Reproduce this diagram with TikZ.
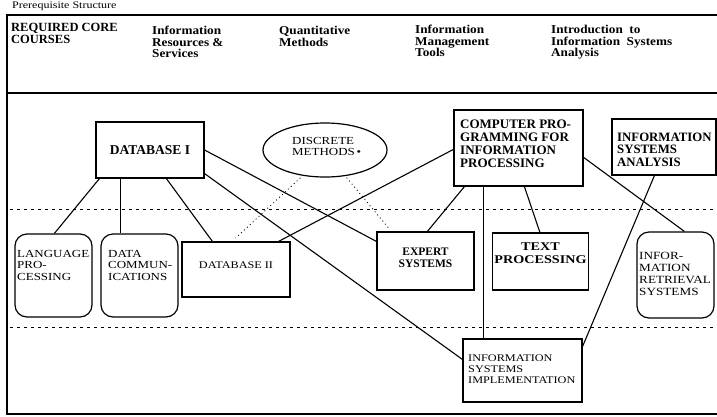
\documentclass[tikz,border=0pt]{standalone}
\usepackage{fontspec}
\setmainfont{Liberation Serif}
\newfontfamily\widefont[FakeStretch=1.2]{Liberation Serif}
\newfontfamily\semifont[FakeStretch=1.1]{Liberation Serif}
\usetikzlibrary{shapes.geometric}
\tikzset{
  box/.style={draw, line width=1.2pt, inner sep=0pt},
  rbox/.style={box, rounded corners=12pt},
  conn/.style={line width=1.1pt},
  dots/.style={line width=0.8pt, dash pattern=on 1pt off 3pt},
  sep/.style={line width=1pt, dash pattern=on 3pt off 4pt},
  frame/.style={line width=1.1pt},
  rtxt/.style={inner sep=0pt, anchor=north west, align=left, font=\widefont\fontsize{10.8}{11.6}\selectfont},
  btxt/.style={inner sep=0pt, anchor=north west, align=left, font=\bfseries\fontsize{13}{13}\selectfont},
  htxt/.style={inner sep=0pt, anchor=north west, align=left, font=\semifont\bfseries\fontsize{12}{11.5}\selectfont},
}
\begin{document}
\begin{tikzpicture}[x=1pt,y=-1pt]
\useasboundingbox (0,0) rectangle (717,416);
% title and frame
\node[inner sep=0pt, anchor=north west, font=\widefont\fontsize{10}{10}\selectfont] (title) at (12,2) {Prerequisite Structure};
\coordinate (ftr) at (717,15);
\coordinate (ftl) at (7,15);
\coordinate (fbl) at (7,414);
\coordinate (fbr) at (717,414);
\coordinate (hl) at (7,93);
\coordinate (hr) at (717,93);
\draw[frame] (ftr) -- (ftl) -- (fbl) -- (fbr);
\draw[frame] (hl) -- (hr);
% headers
\node[htxt, font=\bfseries\fontsize{12.5}{11.8}\selectfont] (h1) at (11,23) {REQUIRED CORE\\COURSES};
\node[htxt] (h2) at (152,26) {Information\\Resources \&\\Services};
\node[htxt] (h3) at (279,26) {Quantitative\\Methods};
\node[htxt] (h4) at (415,25) {Information\\Management\\Tools};
\node[htxt] (h5) at (551,25) {Introduction\ \ to\\Information\ \ Systems\\Analysis};
% separators
\coordinate (s1l) at (10,209);
\coordinate (s1r) at (717,209);
\coordinate (s2l) at (10,327);
\coordinate (s2r) at (717,327);
\draw[sep] (s1l) -- (s1r);
\draw[sep] (s2l) -- (s2r);
% boxes
\node[box, minimum width=108pt, minimum height=56pt, font=\bfseries\fontsize{13.5}{14}\selectfont] (db1) at (150,150) {DATABASE I};
\node[draw, line width=1.2pt, ellipse, minimum width=124pt, minimum height=54pt, inner sep=0pt] (disc) at (325,150) {};
\node[box, minimum width=129pt, minimum height=76pt] (cp) at (518.5,148) {};
\node[box, minimum width=104pt, minimum height=56pt] (isa) at (664,147) {};
\node[rbox, minimum width=77pt, minimum height=83pt] (lang) at (53.5,275.5) {};
\node[rbox, minimum width=77pt, minimum height=83pt] (dc) at (139.5,275.5) {};
\node[box, minimum width=108pt, minimum height=55pt] (db2) at (236,269.5) {};
\node[box, minimum width=97pt, minimum height=58pt] (es) at (425.5,261) {};
\node[box, minimum width=96pt, minimum height=57pt] (tp) at (540.5,261.5) {};
\node[rbox, minimum width=77pt, minimum height=86pt] (ir) at (675.5,275) {};
\node[box, minimum width=119pt, minimum height=63pt] (isi) at (522.5,370.5) {};
% texts
\node[rtxt] (disct) at (292,137) {DISCRETE\\METHODS\,\raisebox{0.5pt}{\textbullet}};
\node[btxt] (cpt) at (460,120) {COMPUTER PRO-\\GRAMMING FOR\\INFORMATION\\PROCESSING};
\node[btxt, font=\bfseries\fontsize{12.8}{12.3}\selectfont] (isat) at (617,133) {INFORMATION\\SYSTEMS\\ANALYSIS};
\node[rtxt] (langt) at (17,250) {LANGUAGE\\PRO-\\CESSING};
\node[rtxt] (dct) at (108,250) {DATA\\COMMUN-\\ICATIONS};
\node[rtxt, anchor=north, align=center, font=\widefont\fontsize{10.2}{11}\selectfont] (db2t) at (236,262) {DATABASE II};
\node[btxt, anchor=north, align=center, font=\bfseries\fontsize{11.5}{12}\selectfont] (est) at (425.5,248) {EXPERT\\SYSTEMS};
\node[btxt, anchor=north, align=center, font=\widefont\bfseries\fontsize{11.8}{13}\selectfont] (tpt) at (540.5,243) {TEXT\\PROCESSING};
\node[rtxt, font=\widefont\fontsize{11}{12}\selectfont] (irt) at (639,252) {INFOR-\\MATION\\RETRIEVAL\\SYSTEMS};
\node[rtxt, font=\widefont\fontsize{10.2}{11}\selectfont] (isit) at (468,355) {INFORMATION\\SYSTEMS\\IMPLEMENTATION};
% connectors
\draw[conn] ([xshift=4pt]db1.south west) -- ([xshift=40pt]lang.north west);
\draw[conn] ([xshift=25pt]db1.south west) -- ([xshift=20pt]dc.north west);
\draw[conn] ([xshift=71pt]db1.south west) -- ([xshift=31pt]db2.north west);
\draw[conn] (db1.east) -- ([yshift=-10pt]es.north west);
\draw[conn] ([yshift=5pt]db1.south east) -- ([yshift=-21pt]isi.north west);
\draw[conn] ([yshift=-40pt]cp.north west) -- ([xshift=-12pt]db2.north east);
\draw[conn] ([xshift=11pt]cp.south west) -- ([xshift=51pt]es.north west);
\draw[conn] ([xshift=30pt]cp.south west) -- ([xshift=21pt]isi.north west);
\draw[conn] ([xshift=71pt]cp.south west) -- ([xshift=48pt]tp.north west);
\draw[conn] ([yshift=-48pt]cp.north east) -- ([xshift=48pt]ir.north west);
\draw[conn] ([xshift=43pt]isa.south west) -- ([yshift=-8pt]isi.north east);
\draw[dots, shorten <=3pt, shorten >=5pt] (disc.229) -- ([xshift=-4pt]db2.north);
\draw[dots, shorten <=2pt, shorten >=3pt] (disc.308) -- ([xshift=15pt]es.north west);
\end{tikzpicture}
\end{document}
